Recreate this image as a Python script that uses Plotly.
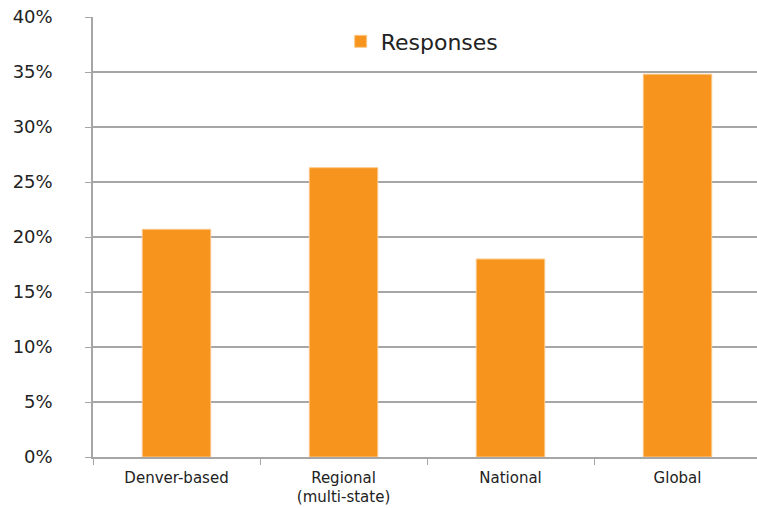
import plotly.graph_objects as go

categories = ["Denver-based", "Regional<br>(multi-state)", "National", "Global"]
responses = [0.207, 0.263, 0.180, 0.348]
tick_vals = [0, 0.05, 0.10, 0.15, 0.20, 0.25, 0.30, 0.35, 0.40]
tick_text = ["0%", "5%", "10%", "15%", "20%", "25%", "30%", "35%", "40%"]

FONT = "DejaVu Sans, Verdana, sans-serif"

fig = go.Figure()
fig.add_trace(go.Bar(
    x=categories, y=responses, name="Responses",
    marker=dict(color="#F7941D", line=dict(color="#FBC98A", width=1)),
    width=0.41, showlegend=True,
))

fig.update_layout(
    width=757, height=508,
    margin=dict(l=93, r=0, t=17, b=51),
    paper_bgcolor="white", plot_bgcolor="white",
    font=dict(family=FONT, color="#222222"),
    showlegend=True,
    legend=dict(x=0.373, y=0.992, xanchor="left", yanchor="top",
                orientation="h", font=dict(size=22, color="#222222", family=FONT),
                bgcolor="rgba(0,0,0,0)"),
)
fig.update_xaxes(
    range=[-0.5, 3.476], showline=True, linecolor="#a6a6a6", linewidth=1.5,
    ticks="outside", tickson="boundaries", ticklen=6, tickcolor="#a6a6a6",
    tickfont=dict(size=15, color="#222222", family=FONT), showgrid=False,
    ticklabelstandoff=6, automargin=False,
)
fig.update_yaxes(
    range=[0, 0.40], tickvals=tick_vals, ticktext=tick_text,
    showline=True, linecolor="#a6a6a6", linewidth=1.5,
    showgrid=True, gridcolor="#a6a6a6", gridwidth=1.5,
    ticks="outside", ticklen=6, tickcolor="#a6a6a6",
    tickfont=dict(size=18, color="#222222", family=FONT), ticklabelstandoff=29,
    zeroline=False, automargin=False,
)
fig.write_html("out.html")
